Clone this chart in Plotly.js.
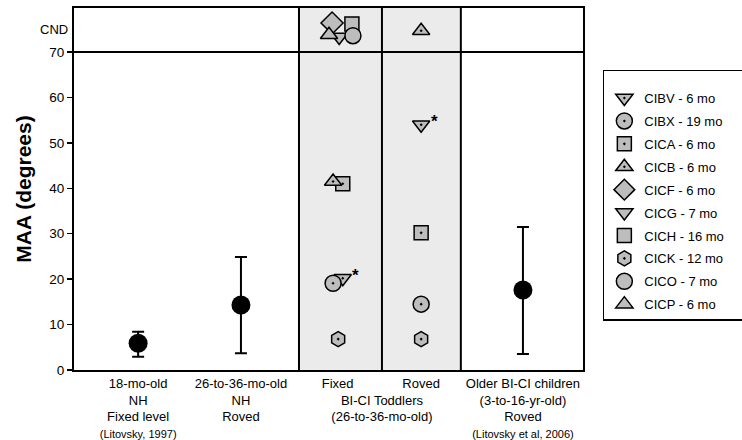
<!DOCTYPE html>
<html>
<head>
<meta charset="utf-8">
<script src="https://cdn.plot.ly/plotly-3.0.1.min.js"></script>
<style>html,body{margin:0;padding:0;background:#fff;}#chart{width:742px;height:440px;}</style>
</head>
<body>
<div id="chart"></div>
<script>
// ---- Group (column) positions and labels ----
const groupX = [1.26, 3.28, 5.18, 6.82, 8.82];
const dividerX = [4.42, 6.05, 7.6];
const tickVals = [1.26, 3.28, 5.18, 6.05, 6.82, 8.82];
const tickText = [
  "18-mo-old<br>NH<br>Fixed level<br><span style='font-size:11px'>(Litovsky, 1997)</span>",
  "26-to-36-mo-old<br>NH<br>Roved",
  "Fixed",
  "&nbsp;<br>BI-CI Toddlers<br>(26-to-36-mo-old)",
  "Roved",
  "Older BI-CI children<br>(3-to-16-yr-old)<br>Roved<br><span style='font-size:11px'>(Litovsky et al, 2006)</span>"
];

// ---- Group means with error bars (NH 18-mo, NH 26-36 mo, older BI-CI children) ----
const meanX = [1.26, 3.28, 8.82];
const meanMAA = [5.9, 14.3, 17.6];
const highMAA = [8.4, 24.9, 31.5];
const lowMAA = [2.9, 3.7, 3.5];

// ---- Individual toddlers (Fixed column ~5.18, Roved column ~6.82); values above 70 = CND ----
const childNames = ["CIBV - 6 mo","CIBX - 19 mo","CICA - 6 mo","CICB - 6 mo","CICF - 6 mo",
                    "CICG - 7 mo","CICH - 16 mo","CICK - 12 mo","CICO - 7 mo","CICP - 6 mo"];
const cibvX = [5.28, 6.82], cibvY = [20.2, 54.0];
const cibxX = [5.09, 6.82], cibxY = [19.1, 14.5];
const cicaX = [5.28, 6.82], cicaY = [41.0, 30.2];
const cicbX = [5.09, 6.82], cicbY = [41.5, 74.7];
const cicfX = [5.07], cicfY = [76.4];
const cicgX = [5.21], cicgY = [73.3];
const cichX = [5.46], cichY = [76.2];
const cickX = [5.19, 6.82], cickY = [6.8, 6.8];
const cicoX = [5.48], cicoY = [73.6];
const cicpX = [5.01], cicpY = [73.8];

const yTicks = [0, 10, 20, 30, 40, 50, 60, 70];
const cndY = 75.0;

const childX = [cibvX, cibxX, cicaX, cicbX, cicfX, cicgX, cichX, cickX, cicoX, cicpX];
const childY = [cibvY, cibxY, cicaY, cicbY, cicfY, cicgY, cichY, cickY, cicoY, cicpY];
const symbols = ["triangle-down-dot","circle-dot","square-dot","triangle-up-dot","diamond",
                 "triangle-down","square","hexagon-dot","circle","triangle-up"];
const sizes = [15, 16, 14, 15, 17, 15, 14, 15, 16, 15];

const FONT = "Arial, 'Liberation Sans', Helvetica, sans-serif";
const PAD = '&nbsp;'.repeat(4); // widen the legend box toward the right edge as in the reference
const traces = [];

traces.push({
  x: meanX, y: meanMAA, type: 'scatter', mode: 'markers', showlegend: false,
  marker: {color: '#000', size: 19},
  error_y: {type: 'data', symmetric: false,
    array: meanMAA.map((m, i) => highMAA[i] - m),
    arrayminus: meanMAA.map((m, i) => m - lowMAA[i]),
    color: '#000', thickness: 2, width: 6}
});

childNames.forEach((name, i) => {
  traces.push({
    x: childX[i], y: childY[i], type: 'scatter', mode: 'markers', name: name + PAD,
    legendgroup: 'g' + i,
    marker: {symbol: symbols[i], size: sizes[i], color: '#bdbdbd',
             line: {color: '#000', width: 1.5}}
  });
});

const shapes = [
  {type: 'rect', xref: 'x', yref: 'paper', x0: dividerX[0], x1: dividerX[2], y0: 0, y1: 1,
   fillcolor: '#ebebeb', line: {width: 0}, layer: 'below'},
  {type: 'line', xref: 'paper', yref: 'y', x0: 0, x1: 1, y0: 70, y1: 70,
   line: {color: '#000', width: 2}, layer: 'below'}
];
dividerX.forEach(d => shapes.push({type: 'line', xref: 'x', yref: 'paper', x0: d, x1: d, y0: 0, y1: 1,
  line: {color: '#000', width: 2}, layer: 'below'}));

const annotations = [
  {xref: 'paper', yref: 'y', x: 0, y: cndY, text: 'CND', showarrow: false, xanchor: 'right',
   xshift: -4, font: {family: FONT, size: 13, color: '#000'}}
];
cibvX.forEach((x, i) => annotations.push({
  xref: 'x', yref: 'y', x: x, y: cibvY[i], text: '<b>*</b>', showarrow: false,
  xshift: 13, yshift: 3, font: {family: FONT, size: 17, color: '#000'}
}));

const layout = {
  width: 742, height: 440,
  margin: {l: 74, r: 159, t: 8, b: 70, autoexpand: false},
  paper_bgcolor: '#fff', plot_bgcolor: '#fff',
  font: {family: FONT, size: 13, color: '#000'},
  xaxis: {range: [0, 10], showgrid: false, zeroline: false, showline: true, mirror: true,
          linecolor: '#000', linewidth: 2, ticks: '', tickangle: 0, tickvals: tickVals, ticktext: tickText,
          tickfont: {family: FONT, size: 13, color: '#000'}, fixedrange: true},
  yaxis: {range: [0, 79.7], showgrid: false, zeroline: false, showline: true, mirror: true,
          linecolor: '#000', linewidth: 2, ticks: 'outside', ticklen: 5, tickwidth: 1.5, tickcolor: '#000',
          tickvals: yTicks, tickfont: {family: FONT, size: 13.5, color: '#000'},
          title: {text: '<b>MAA (degrees)</b>', font: {family: FONT, size: 21, color: '#000'}, standoff: 12},
          fixedrange: true},
  legend: {x: 1.039, xanchor: 'left', y: 0.829, yanchor: 'top', bgcolor: '#fff',
           bordercolor: '#000', borderwidth: 1.5, tracegroupgap: 3,
           font: {family: FONT, size: 13, color: '#000'},
           title: {text: ' ', font: {size: 9}}},
  shapes: shapes, annotations: annotations
};

Plotly.newPlot('chart', traces, layout, {displayModeBar: false, staticPlot: true});
</script>
</body>
</html>
